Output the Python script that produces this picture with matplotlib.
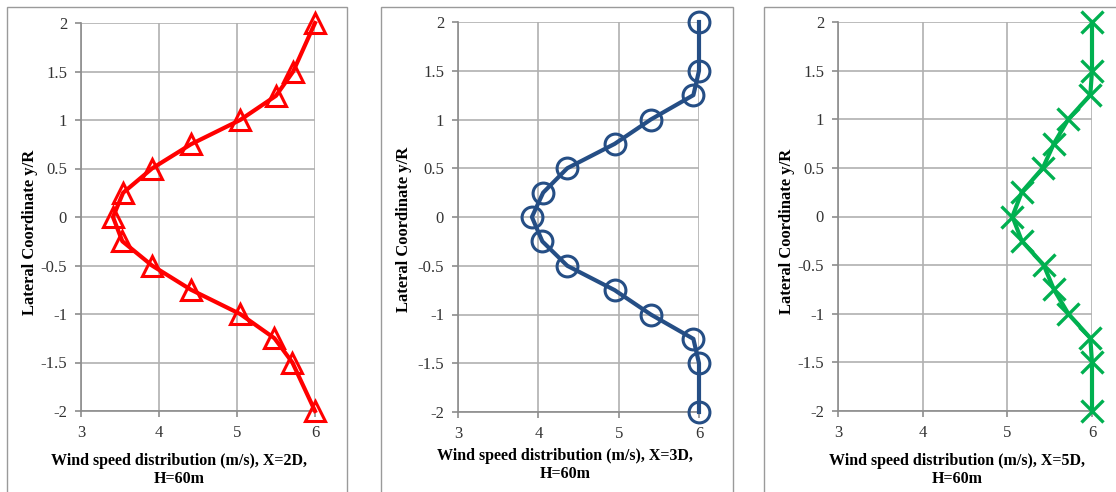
import matplotlib.pyplot as plt
from matplotlib.patches import Rectangle

plt.rcParams['font.family'] = ['Liberation Serif', 'DejaVu Serif']

y_pos = [2, 1.5, 1.25, 1, 0.75, 0.5, 0.25, 0, -0.25, -0.5, -0.75, -1, -1.25, -1.5, -2]
speed_2d = [6.0, 5.72, 5.5, 5.04, 4.41, 3.91, 3.54, 3.41, 3.53, 3.91, 4.41, 5.04, 5.48, 5.71, 6.0]
speed_3d = [6.0, 6.0, 5.93, 5.40, 4.95, 4.36, 4.06, 3.92, 4.05, 4.36, 4.95, 5.40, 5.93, 6.0, 6.0]
speed_5d = [6.0, 6.0, 5.98, 5.72, 5.55, 5.42, 5.17, 5.06, 5.17, 5.43, 5.55, 5.72, 5.98, 6.0, 6.0]

x_ticks = [3, 4, 5, 6]
y_ticks = [-2, -1.5, -1, -0.5, 0, 0.5, 1, 1.5, 2]
labels = ['Wind speed distribution (m/s), X=2D,\nH=60m',
          'Wind speed distribution (m/s), X=3D,\nH=60m',
          'Wind speed distribution (m/s), X=5D,\nH=60m']

W, H = 1116, 492
fig = plt.figure(figsize=(W / 100, H / 100), dpi=100)

# panel frames (left, right) in pixels
frames = [(7, 347), (381, 733), (764, 1125)]
# axes boxes (left, right, top, bottom) in pixels
boxes = [(81, 315, 23, 411), (458, 699, 22, 412), (838, 1092, 22, 411)]
# label positions in axes fractions: (ylabel x, ylabel y, xlabel x, xlabel y)
label_pos = [(-0.218, 0.461, 0.42, -0.153),
             (-0.225, 0.467, 0.444, -0.135),
             (-0.202, 0.461, 0.469, -0.152)]
series = [
    (speed_2d, '#ff0000', '^', 14, 2.2, 'none'),
    (speed_3d, '#254e85', 'o', 15, 2.2, 'none'),
    (speed_5d, '#00b050', 'x', 16, 2.4, '#00b050'),
]

for i in range(3):
    fl, fr = frames[i]
    fig.patches.append(Rectangle((fl / W, -0.1), (fr - fl) / W, 1.1 - 7 / H,
                                 transform=fig.transFigure, fill=False,
                                 edgecolor='#9a9a9a', linewidth=1.0))
    l, r, t, b = boxes[i]
    ax = fig.add_axes([l / W, 1 - b / H, (r - l) / W, (b - t) / H])
    vals, color, mk, ms, mew, mfc = series[i]
    ax.plot(vals, y_pos, color=color, linewidth=3, marker=mk, markersize=ms,
            markerfacecolor=mfc, markeredgecolor=color, markeredgewidth=mew,
            clip_on=False, zorder=3)
    ax.set_xlim(3, 6)
    ax.set_ylim(-2, 2)
    ax.set_xticks(x_ticks)
    ax.set_yticks(y_ticks)
    ax.set_yticklabels(['-2', '-1.5', '-1', '-0.5', '0', '0.5', '1', '1.5', '2'])
    ax.grid(True, color='#b0b0b0', linewidth=1.2)
    ax.set_axisbelow(True)
    for s in ['top', 'right']:
        ax.spines[s].set_visible(False)
    for s in ['left', 'bottom']:
        ax.spines[s].set_color('#8c8c8c')
        ax.spines[s].set_linewidth(1.2)
    ax.tick_params(axis='both', colors='#8c8c8c', length=4, width=1.2,
                   labelcolor='#333333', labelsize=12)
    ax.tick_params(axis='y', pad=6)
    ax.tick_params(axis='x', pad=6)
    yx, yy, xx, xy = label_pos[i]
    ax.set_ylabel('Lateral Coordinate y/R', fontsize=12, fontweight='bold',
                  va='center', ha='center')
    ax.yaxis.set_label_coords(yx, yy)
    ax.set_xlabel(labels[i], fontsize=11.5, fontweight='bold', linespacing=1.15,
                  va='center', ha='center')
    ax.xaxis.set_label_coords(xx, xy)

fig.savefig('out.png', dpi=100)
